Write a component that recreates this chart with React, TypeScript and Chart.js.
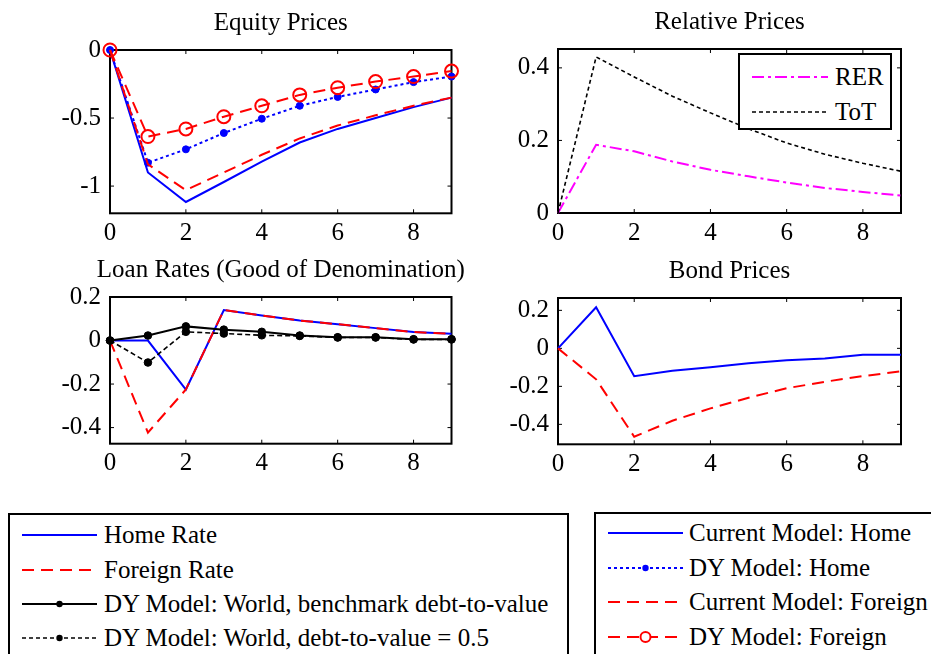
import React, { useEffect, useRef } from "react";
import { Chart, registerables } from "chart.js";

Chart.register(...registerables);

const FONT = '"Liberation Serif", serif';
const FS = 25;
Chart.defaults.font.family = FONT;

// ---------- data ----------
const PERIODS = [0, 1, 2, 3, 4, 5, 6, 7, 8, 9];
const X_TICKS = [0, 2, 4, 6, 8];

// Equity Prices
const EQ_CUR_HOME = [0, -0.9, -1.117, -0.97, -0.82, -0.68, -0.58, -0.5, -0.42, -0.35];
const EQ_DY_HOME = [0, -0.828, -0.73, -0.61, -0.505, -0.41, -0.345, -0.29, -0.236, -0.195];
const EQ_CUR_FOREIGN = [0, -0.84, -1.03, -0.9, -0.77, -0.65, -0.555, -0.48, -0.41, -0.35];
const EQ_DY_FOREIGN = [0, -0.636, -0.58, -0.49, -0.41, -0.33, -0.277, -0.232, -0.195, -0.155];
const EQ_Y_TICKS = [-1, -0.5, 0];

// Relative Prices
const REL_RER = [0, 0.188, 0.17, 0.142, 0.119, 0.101, 0.084, 0.069, 0.058, 0.048];
const REL_TOT = [0, 0.43, 0.375, 0.322, 0.276, 0.232, 0.193, 0.162, 0.137, 0.115];
const REL_Y_TICKS = [0, 0.2, 0.4];

// Loan Rates (Good of Denomination)
const LOAN_HOME = [0, 0, -0.225, 0.14, 0.115, 0.092, 0.075, 0.057, 0.039, 0.031];
const LOAN_FOREIGN = [0, -0.423, -0.225, 0.14, 0.115, 0.092, 0.075, 0.057, 0.039, 0.031];
const LOAN_DY_BENCH = [0, 0.023, 0.065, 0.05, 0.04, 0.023, 0.015, 0.015, 0.006, 0.006];
const LOAN_DY_HALF = [0, -0.101, 0.04, 0.032, 0.024, 0.021, 0.014, 0.014, 0.005, 0.005];
const LOAN_Y_TICKS = [-0.4, -0.2, 0, 0.2];

// Bond Prices
const BOND_CUR_HOME = [0, 0.216, -0.147, -0.118, -0.1, -0.079, -0.062, -0.053, -0.034, -0.034];
const BOND_CUR_FOREIGN = [0, -0.163, -0.465, -0.381, -0.316, -0.26, -0.21, -0.176, -0.146, -0.121];
const BOND_Y_TICKS = [-0.4, -0.2, 0, 0.2];

// ---------- styles ----------
type Marker = "none" | "dot" | "circle";
interface Series {
  data: number[];
  color: string;
  width: number;
  dash: number[];
  marker: Marker;
  radius?: number;
}

const BLUE = "#0000ff";
const RED = "#ff0000";
const MAGENTA = "#ff00ff";
const BLACK = "#000000";

const DASH_LONG = [12, 7];
const DASH_DOT = [3, 3];
const DASH_SHORT = [5, 3];
const DASH_DOTDASH = [12, 4, 3, 4];

interface PanelDef {
  title: string;
  L: number;
  T: number;
  R: number;
  B: number;
  ymin: number;
  ymax: number;
  yTicks: number[];
  series: Series[];
}

const PANELS: PanelDef[] = [
  {
    title: "Equity Prices",
    L: 109.5, T: 50, R: 451, B: 213.3,
    ymin: -1.2, ymax: 0, yTicks: EQ_Y_TICKS,
    series: [
      { data: EQ_CUR_HOME, color: BLUE, width: 2, dash: [], marker: "none" },
      { data: EQ_DY_HOME, color: BLUE, width: 2, dash: DASH_DOT, marker: "dot", radius: 3.5 },
      { data: EQ_CUR_FOREIGN, color: RED, width: 2, dash: DASH_LONG, marker: "none" },
      { data: EQ_DY_FOREIGN, color: RED, width: 2, dash: DASH_LONG, marker: "circle", radius: 6.5 },
    ],
  },
  {
    title: "Relative Prices",
    L: 558, T: 49.3, R: 901, B: 213.3,
    ymin: 0, ymax: 0.452, yTicks: REL_Y_TICKS,
    series: [
      { data: REL_RER, color: MAGENTA, width: 2, dash: DASH_DOTDASH, marker: "none" },
      { data: REL_TOT, color: BLACK, width: 1.6, dash: [4, 3], marker: "none" },
    ],
  },
  {
    title: "Loan Rates (Good of Denomination)",
    L: 109.5, T: 297.3, R: 451, B: 444,
    ymin: -0.474, ymax: 0.2, yTicks: LOAN_Y_TICKS,
    series: [
      { data: LOAN_HOME, color: BLUE, width: 2, dash: [], marker: "none" },
      { data: LOAN_FOREIGN, color: RED, width: 2, dash: DASH_LONG, marker: "none" },
      { data: LOAN_DY_BENCH, color: BLACK, width: 2, dash: [], marker: "dot", radius: 3.8 },
      { data: LOAN_DY_HALF, color: BLACK, width: 1.6, dash: DASH_SHORT, marker: "dot", radius: 3.8 },
    ],
  },
  {
    title: "Bond Prices",
    L: 558, T: 297.7, R: 901, B: 444,
    ymin: -0.505, ymax: 0.265, yTicks: BOND_Y_TICKS,
    series: [
      { data: BOND_CUR_HOME, color: BLUE, width: 2, dash: [], marker: "none" },
      { data: BOND_CUR_FOREIGN, color: RED, width: 2, dash: DASH_LONG, marker: "none" },
    ],
  },
];

const fmt = (v: number) => {
  const r = Math.round(v * 1000) / 1000;
  return String(r);
};

// frame with inward ticks (MATLAB-style box)
const framePlugin = {
  id: "matlabFrame",
  beforeDatasetsDraw(chart: any) {
    const { ctx, chartArea } = chart;
    const { left, right, top, bottom } = chartArea;
    const xs = chart.scales.x;
    const ys = chart.scales.y;
    const tl = 4;
    ctx.save();
    ctx.strokeStyle = "#000";
    ctx.lineWidth = 1;
    ctx.beginPath();
    xs.ticks.forEach((t: any) => {
      const px = xs.getPixelForValue(t.value);
      ctx.moveTo(px, bottom);
      ctx.lineTo(px, bottom - tl);
      ctx.moveTo(px, top);
      ctx.lineTo(px, top + tl);
    });
    ys.ticks.forEach((t: any) => {
      const py = ys.getPixelForValue(t.value);
      ctx.moveTo(left, py);
      ctx.lineTo(left + tl, py);
      ctx.moveTo(right, py);
      ctx.lineTo(right - tl, py);
    });
    ctx.stroke();
    ctx.lineWidth = 2;
    ctx.strokeRect(left, top, right - left, bottom - top);
    ctx.restore();
  },
};

const titlePlugin = {
  id: "panelTitle",
  afterDraw(chart: any, _args: any, opts: any) {
    const { ctx, chartArea } = chart;
    ctx.save();
    ctx.font = `${FS}px ${FONT}`;
    ctx.fillStyle = "#000";
    ctx.textAlign = "center";
    ctx.textBaseline = "middle";
    ctx.fillText(opts.text, (chartArea.left + chartArea.right) / 2, chartArea.top - 27);
    ctx.restore();
  },
};

function Panel({ def }: { def: PanelDef }) {
  const ref = useRef<HTMLCanvasElement | null>(null);
  const yw = 105;
  const topPad = 50;
  const rightPad = 22;
  const xh = 42;
  const cx = def.L - yw;
  const cy = def.T - topPad;
  const cw = Math.round(def.R - cx + rightPad);
  const ch = Math.round(def.B - cy + xh);

  useEffect(() => {
    if (!ref.current) return;
    const n = def.series.length;
    const chart = new Chart(ref.current, {
      type: "line",
      data: {
        datasets: def.series.map((s, i) => ({
          data: s.data.map((y, k) => ({ x: PERIODS[k], y })),
          borderColor: s.color,
          borderWidth: s.width,
          borderDash: s.dash,
          backgroundColor: s.marker === "circle" ? "rgba(0,0,0,0)" : s.color,
          pointRadius: s.marker === "none" ? 0 : s.radius ?? 3.5,
          pointBorderColor: s.color,
          pointBackgroundColor: s.marker === "circle" ? "rgba(0,0,0,0)" : s.color,
          pointBorderWidth: s.marker === "circle" ? 2 : 1,
          pointHoverRadius: 0,
          tension: 0,
          fill: false,
          clip: false as any,
          order: n - 1 - i,
        })),
      },
      options: {
        animation: false,
        responsive: false,
        devicePixelRatio: 1,
        events: [],
        layout: {
          padding: {
            left: 0,
            top: def.T - cy,
            right: cx + cw - def.R,
            bottom: 0,
          },
        },
        plugins: {
          legend: { display: false },
          tooltip: { enabled: false },
          title: { display: false },
          panelTitle: { text: def.title },
        } as any,
        scales: {
          x: {
            type: "linear",
            min: 0,
            max: 9,
            grid: { display: false, drawTicks: false },
            border: { display: false },
            afterBuildTicks: (scale: any) => {
              scale.ticks = X_TICKS.map((v) => ({ value: v }));
            },
            afterFit: (scale: any) => {
              scale.height = cy + ch - def.B;
            },
            ticks: {
              color: "#000",
              font: { family: FONT, size: FS },
              padding: 5,
              maxRotation: 0,
              autoSkip: false,
              callback: (v: any) => fmt(Number(v)),
            },
          },
          y: {
            type: "linear",
            min: def.ymin,
            max: def.ymax,
            grid: { display: false, drawTicks: false },
            border: { display: false },
            afterBuildTicks: (scale: any) => {
              scale.ticks = def.yTicks.map((v) => ({ value: v }));
            },
            afterFit: (scale: any) => {
              scale.width = def.L - cx;
            },
            ticks: {
              color: "#000",
              font: { family: FONT, size: FS },
              padding: 9,
              autoSkip: false,
              callback: (v: any) => fmt(Number(v)),
            },
          },
        },
      },
      plugins: [framePlugin, titlePlugin],
    });
    return () => chart.destroy();
  }, []);

  return (
    <canvas
      ref={ref}
      width={cw}
      height={ch}
      style={{ position: "absolute", left: cx, top: cy, width: cw, height: ch }}
    />
  );
}

// ---------- legends ----------
interface LegendItem {
  label: string;
  color: string;
  width: number;
  dash: number[];
  marker: Marker;
}

const LEGEND_LOAN: LegendItem[] = [
  { label: "Home Rate", color: BLUE, width: 2, dash: [], marker: "none" },
  { label: "Foreign Rate", color: RED, width: 2, dash: DASH_LONG, marker: "none" },
  { label: "DY Model: World, benchmark debt-to-value", color: BLACK, width: 2, dash: [], marker: "dot" },
  { label: "DY Model: World, debt-to-value = 0.5", color: BLACK, width: 1.6, dash: [4, 3], marker: "dot" },
];

const LEGEND_MODEL: LegendItem[] = [
  { label: "Current Model: Home", color: BLUE, width: 2, dash: [], marker: "none" },
  { label: "DY Model: Home", color: BLUE, width: 2, dash: DASH_DOT, marker: "dot" },
  { label: "Current Model: Foreign", color: RED, width: 2, dash: DASH_LONG, marker: "none" },
  { label: "DY Model: Foreign", color: RED, width: 2, dash: DASH_LONG, marker: "circle" },
];

const LEGEND_REL: LegendItem[] = [
  { label: "RER", color: MAGENTA, width: 2, dash: DASH_DOTDASH, marker: "none" },
  { label: "ToT", color: BLACK, width: 1.6, dash: [4, 3], marker: "none" },
];

function Sample({ item, x, y, w }: { item: LegendItem; x: number; y: number; w: number }) {
  return (
    <svg
      width={w}
      height={20}
      style={{ position: "absolute", left: x, top: y - 10, overflow: "visible" }}
    >
      <line
        x1={0}
        y1={10}
        x2={w}
        y2={10}
        stroke={item.color}
        strokeWidth={item.width}
        strokeDasharray={item.dash.length ? item.dash.join(" ") : undefined}
      />
      {item.marker === "dot" && <circle cx={w / 2} cy={10} r={3.2} fill={item.color} />}
      {item.marker === "circle" && (
        <circle cx={w / 2} cy={10} r={5} fill="white" stroke={item.color} strokeWidth={2} />
      )}
    </svg>
  );
}

function LegendRows({
  items,
  sx,
  sw,
  tx,
  rows,
}: {
  items: LegendItem[];
  sx: number;
  sw: number;
  tx: number;
  rows: number[];
}) {
  return (
    <>
      {items.map((it, i) => (
        <React.Fragment key={i}>
          <Sample item={it} x={sx} y={rows[i]} w={sw} />
          <div
            style={{
              position: "absolute",
              left: tx,
              top: rows[i] - 16,
              height: 32,
              lineHeight: "32px",
              fontFamily: FONT,
              fontSize: FS,
              color: "#000",
              whiteSpace: "nowrap",
            }}
          >
            {it.label}
          </div>
        </React.Fragment>
      ))}
    </>
  );
}

export default function App() {
  return (
    <div
      style={{
        position: "absolute",
        left: 0,
        top: 0,
        width: 931,
        height: 654,
        overflow: "hidden",
        background: "#fff",
      }}
    >
      {PANELS.map((p, i) => (
        <Panel key={i} def={p} />
      ))}

      {/* legend inside Relative Prices */}
      <div
        style={{
          position: "absolute",
          left: 738,
          top: 53,
          width: 154,
          height: 77,
          border: "2px solid #000",
          boxSizing: "border-box",
          background: "#fff",
        }}
      />
      <LegendRows items={LEGEND_REL} sx={752} sw={76} tx={835} rows={[77, 111.5]} />

      {/* bottom-left legend */}
      <div
        style={{
          position: "absolute",
          left: 8,
          top: 513,
          width: 561,
          height: 170,
          border: "2px solid #000",
          boxSizing: "border-box",
          background: "#fff",
        }}
      />
      <LegendRows items={LEGEND_LOAN} sx={22} sw={75} tx={104} rows={[535, 570, 604, 638]} />

      {/* bottom-right legend */}
      <div
        style={{
          position: "absolute",
          left: 594,
          top: 512,
          width: 360,
          height: 170,
          border: "2px solid #000",
          boxSizing: "border-box",
          background: "#fff",
        }}
      />
      <LegendRows items={LEGEND_MODEL} sx={608} sw={75} tx={689} rows={[533, 568, 602, 637]} />
    </div>
  );
}
